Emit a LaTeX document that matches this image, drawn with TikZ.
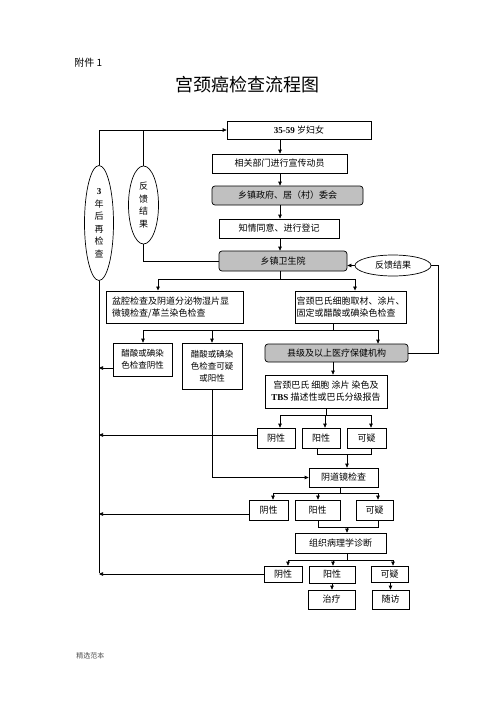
\documentclass[tikz,border=0pt]{standalone}
\usepackage{fontspec}
\setmainfont{Liberation Serif}
\newfontfamily\cjk{Noto Sans CJK SC}
\usetikzlibrary{arrows.meta,calc,shapes.geometric}
\definecolor{boxgray}{RGB}{192,192,192}
\begin{document}
\begin{tikzpicture}[x=1pt,y=-1pt,line width=0.7pt,
  box/.style={draw,inner sep=1pt,font=\cjk\fontsize{9}{12}\selectfont,align=center},
  gbox/.style={box,fill=boxgray,rounded corners=3pt},
  sbox/.style={box,font=\cjk\fontsize{8.5}{12}\selectfont},
  oval/.style={draw,ellipse,inner sep=0pt,font=\cjk\fontsize{9}{12.5}\selectfont,align=center},
  arr/.style={-{Triangle[length=4pt,width=3.5pt]}}]
\useasboundingbox (0,0) rectangle (500,707);
\fill[white] (0,0) rectangle (500,707);
% texts
\node[anchor=west,font=\cjk\fontsize{10}{12}\selectfont,inner sep=0] (hdr) at (74,63) {附件 1};
\node[font=\cjk\fontsize{18}{20}\selectfont,inner sep=0] (title) at (247,85) {宫颈癌检查流程图};
\node[anchor=west,font=\cjk\fontsize{7}{8}\selectfont,inner sep=0,text=black!70] (foot) at (76,656) {精选范本};
% main column
\node[box,minimum width=144,minimum height=18] (b1) at (299,130) {{\rmfamily\bfseries 35-59} 岁妇女};
\node[box,minimum width=135,minimum height=19] (b2) at (279.5,163.5) {相关部门进行宣传动员};
\node[gbox,minimum width=151,minimum height=19] (b3) at (287.5,195.5) {乡镇政府、居（村）委会};
\node[box,minimum width=120,minimum height=19] (b4) at (279,228.5) {知情同意、进行登记};
\node[gbox,minimum width=128,minimum height=20] (b5) at (283,261) {乡镇卫生院};
\node[box,line width=1pt,text width=125,inner xsep=6,minimum height=32,align=left] (b6) at (174.5,307) {盆腔检查及阴道分泌物湿片显\\微镜检查/革兰染色检查};
\node[box,line width=0.9pt,text width=108,inner xsep=1.5,minimum height=32,align=left] (b7) at (350.5,307) {宫颈巴氏细胞取材、涂片、\\固定或醋酸或碘染色检查};
\node[sbox,minimum width=59,minimum height=33] (b8) at (142.5,359.5) {醋酸或碘染\\色检查阴性};
\node[sbox,minimum width=60,minimum height=46] (b9) at (212,366) {醋酸或碘染\\色检查可疑\\或阳性};
\node[gbox,minimum width=143,minimum height=18] (b10) at (336.5,353) {县级及以上医疗保健机构};
\node[box,minimum width=122,minimum height=33] (b11) at (326,391.5) {宫颈巴氏 细胞 涂片 染色及\\{\rmfamily\bfseries TBS} 描述性或巴氏分级报告};
\node[box,minimum width=38,minimum height=20] (r1a) at (276,438) {阴性};
\node[box,minimum width=38,minimum height=20] (r1b) at (321,438) {阳性};
\node[box,minimum width=39,minimum height=20] (r1c) at (366.5,438) {可疑};
\node[box,minimum width=69,minimum height=19] (b12) at (343.5,477.5) {阴道镜检查};
\node[box,minimum width=39,minimum height=20] (r2a) at (268.5,510) {阴性};
\node[box,minimum width=45,minimum height=20] (r2b) at (317.5,510) {阳性};
\node[box,minimum width=37,minimum height=20] (r2c) at (374.5,510) {可疑};
\node[box,minimum width=91,minimum height=20] (b13) at (340.5,543) {组织病理学诊断};
\node[box,minimum width=38,minimum height=16] (r3a) at (283,574) {阴性};
\node[box,minimum width=46,minimum height=17] (r3b) at (332,574.5) {阳性};
\node[box,minimum width=37,minimum height=16] (r3c) at (389.5,574) {可疑};
\node[box,minimum width=47,minimum height=19] (t1) at (331.5,599.5) {治疗};
\node[box,minimum width=37,minimum height=19] (t2) at (390.5,599.5) {随访};
% ellipses
\node[oval,minimum width=29,minimum height=115] (e1) at (99,223) {{\rmfamily\bfseries 3}\\年\\后\\再\\检\\查};
\node[oval,minimum width=30,minimum height=78] (e2) at (143.5,205) {反\\馈\\结\\果};
\node[oval,minimum width=76,minimum height=21] (e3) at (393,265.5) {反馈结果};
% spine
\coordinate (sp) at (280,0);
\draw[arr] (b1.south -| sp) -- (b2.north -| sp);
\draw[arr] (b2.south -| sp) -- (b3.north -| sp);
\draw[arr] (b3.south -| sp) -- (b4.north -| sp);
\draw[arr] (b4.south -| sp) -- (b5.north -| sp);
% feedback loops
\draw[arr] (e1.north) |- (b1.west);
\draw (e2.north) -- (e2.north |- b1.west);
\draw (e2.south) |- (b5.west);
\draw[arr] (e3.west) -- (e3.west -| b5.east);
\coordinate (fb) at (438,265.5);
\draw (b10.east) -| (fb) -- (e3.east);
% left return line
\coordinate (lv) at (99,573);
\draw (e1.south) -- (lv);
\coordinate (a1) at (99,368);
\coordinate (a2) at (99,435);
\coordinate (a3) at (99,514);
\draw[arr] (b8.west |- a1) -- (a1);
\draw[arr] (r1a.west |- a2) -- (a2);
\draw[arr] (r2a.west |- a3) -- (a3);
\draw[arr] (r3a.west) -- (r3a.west -| lv);
% branch from b5
\coordinate (j1) at (280,279);
\coordinate (j1l) at (158,279);
\coordinate (j1r) at (355,279);
\draw (b5.south -| j1) -- (j1);
\draw (j1l) -- (j1r);
\draw[arr] (j1l) -- (j1l |- b6.north);
\draw[arr] (j1r) -- (j1r |- b7.north);
% branch from b7
\coordinate (j2) at (333,330);
\coordinate (j2l) at (143,330);
\coordinate (j2m) at (212,330);
\coordinate (j2r) at (378,330);
\draw (b7.south -| j2) -- (j2);
\draw (j2l) -- (j2r);
\draw[arr] (j2l) -- (j2l |- b8.north);
\draw[arr] (j2m) -- (j2m |- b9.north);
\draw[arr] (j2r) -- (j2r |- b10.north);
\draw[arr] (b9.south) |- (b12.west);
\draw[arr] (b10.south -| j2) -- (b11.north -| j2);
% branch from b11
\coordinate (j4) at (326,415);
\coordinate (j4l) at (280,415);
\coordinate (j4m) at (325,415);
\coordinate (j4r) at (371,415);
\draw (b11.south -| j4) -- (j4);
\draw (j4l) -- (j4r);
\draw[arr] (j4l) -- (j4l |- r1a.north);
\draw[arr] (j4m) -- (j4m |- r1b.north);
\draw[arr] (j4r) -- (j4r |- r1c.north);
% merge 1
\coordinate (m1l) at (317,454);
\coordinate (m1r) at (371,454);
\coordinate (m1) at (347,454);
\draw (r1b.south -| m1l) -- (m1l) -- (m1r) -- (r1c.south -| m1r);
\draw[arr] (m1) -- (b12.north -| m1);
% branch from b12
\coordinate (j5) at (340,493);
\coordinate (j5l) at (273,493);
\coordinate (j5m) at (318,493);
\coordinate (j5r) at (378,493);
\draw (b12.south -| j5) -- (j5);
\draw (j5l) -- (j5r);
\draw[arr] (j5l) -- (j5l |- r2a.north);
\draw[arr] (j5m) -- (j5m |- r2b.north);
\draw[arr] (j5r) -- (j5r |- r2c.north);
% merge 2
\coordinate (m2l) at (318,527);
\coordinate (m2r) at (378,527);
\coordinate (m2) at (347,527);
\draw (r2b.south -| m2l) -- (m2l) -- (m2r) -- (r2c.south -| m2r);
\draw[arr] (m2) -- (b13.north -| m2);
% branch from b13
\coordinate (j6) at (347,560);
\coordinate (j6l) at (288,560);
\coordinate (j6m) at (333,560);
\coordinate (j6r) at (393,560);
\draw (b13.south -| j6) -- (j6);
\draw (j6l) -- (j6r);
\draw[arr] (j6l) -- (j6l |- r3a.north);
\draw[arr] (j6m) -- (j6m |- r3b.north);
\draw[arr] (j6r) -- (j6r |- r3c.north);
% final
\draw[arr] (r3b.south) -- (r3b.south |- t1.north);
\draw[arr] (r3c.south -| t2.north) -- (t2.north);
\end{tikzpicture}
\end{document}
